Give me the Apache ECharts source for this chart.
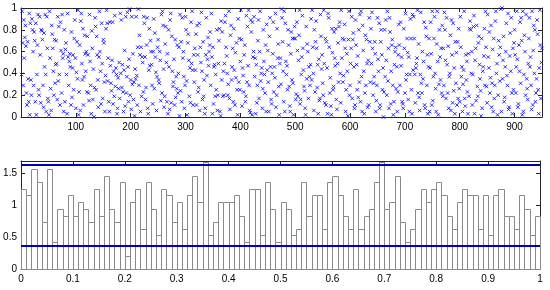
<!DOCTYPE html>
<html>
<head>
<meta charset="utf-8">
<script src="https://cdn.jsdelivr.net/npm/echarts@6/dist/echarts.min.js"></script>
<style>
html, body { margin: 0; padding: 0; background: #fff; }
#main { width: 550px; height: 290px; }
</style>
</head>
<body>
<div id="main"></div>
<script>
// upper panel: sample values in index order, read strip by strip (6 slices of the x range)
var sampleA = [0.39,0.97,0.68,0.29,0.89,0.54,0.73,0.84,0.65,0.22,0.11,0.69,0.35,0.14,0.95,0.02,0.86,0.34,0.20,0.90,0.80,0.60,
  0.29,0.78,0.70,0.14,0.86,0.02,0.39,0.66,0.94,0.25,0.20,0.92,0.57,0.13,0.80,0.79,0.71,0.29,0.09,0.77,0.46,0.94,0.39,0.05,0.92,0.63,0.17,0.14,
  0.02,0.97,0.54,0.26,0.06,0.84,0.76,0.63,0.42,0.20,0.71,0.31,0.48,0.70,0.49,0.16,0.92,0.33,0.83,0.39,0.11,0.87,0.61,0.22,0.94,0.54,0.58,0.05,
  0.80,0.14,0.62,0.68,0.39,0.03,0.95,0.55,0.29,0.51,0.58,0.46,0.11,0.78,0.18,0.45,0.57,0.25,0.72,0.89,0.54,0.08,0.41,0.69,0.35,0.98,0.02,0.23,
  0.66,0.06,0.88,0.95,0.49,0.34,0.81,0.11,0.37,0.75,0.58,0.42,0.60,0.23,0.74,0.57,0.22,0.15,0.94,0.51,0.29,0.03,0.79,0.63,0.16,0.44,0.00,0.27,
  0.91,0.83,0.25,0.74,0.57,0.34,0.09,0.55,0.97,0.60,0.42,0.12,0.86,0.49,0.17,0.71,0.68,0.32,0.05,0.38,0.81];
var sampleB = [0.98,0.86,0.33,0.54,0.14,0.05,0.87,0.47,0.31,0.24,0.52,0.87,0.12,0.42,0.19,0.93,0.28,0.45,0.39,0.03,0.08,0.36,0.26,0.50,0.17,0.95,0.40,
  0.89,0.27,0.48,0.23,0.05,0.43,0.61,0.10,0.92,0.22,0.37,0.96,0.46,0.14,0.53,0.99,0.20,0.34,0.07,0.92,0.30,0.58,0.16,0.32,0.01,0.44,0.35,
  0.92,0.38,0.11,0.64,0.99,0.29,0.75,0.57,0.05,0.64,0.19,0.55,0.50,0.23,0.92,0.86,0.55,0.16,0.27,0.66,0.91,0.08,0.03,0.43,0.81,0.47,0.70,
  0.60,0.48,0.29,0.12,0.60,0.90,0.26,0.77,0.55,0.41,0.06,0.37,0.64,0.71,0.34,0.31,0.60,0.52,0.15,0.94,0.22,0.97,0.84,0.44,0.09,0.19,0.67,
  0.83,0.50,0.14,0.58,0.03,0.80,0.46,0.07,0.89,0.95,0.13,0.74,0.42,0.28,0.32,0.53,0.11,0.71,0.18,0.37,0.26,0.66,0.22,0.40,0.64,0.01,
  0.94,0.24,0.69,0.14,0.91,0.54,0.60,0.37,0.08,0.29,0.92,0.80,0.33,0.02,0.68,0.76,0.52,0.19,0.45,0.13,0.87,0.49,0.97,0.43,0.11,0.57];
var sampleC = [0.32,0.63,0.43,0.76,0.11,0.84,0.57,0.23,0.27,0.86,0.06,0.64,0.50,0.96,0.42,0.16,0.69,0.19,0.34,0.03,0.08,0.57,0.91,0.38,0.53,0.73,0.47,
  0.60,0.66,0.78,0.29,0.95,0.55,0.03,0.64,0.12,0.46,0.48,0.19,0.39,0.25,0.80,0.06,0.20,0.49,0.70,0.81,0.05,0.01,0.88,0.34,0.78,0.19,0.42,
  0.20,0.49,0.87,0.93,0.64,0.56,0.40,0.20,0.30,0.97,0.17,0.07,0.75,0.84,0.34,0.46,0.63,0.14,0.81,0.43,0.11,0.59,0.36,0.68,0.25,0.02,0.90,
  0.32,0.72,0.25,0.51,0.98,0.71,0.10,0.45,0.38,0.23,0.57,0.66,0.14,0.19,0.93,0.32,0.83,0.47,0.98,0.29,0.06,0.04,0.89,0.78,0.02,0.87,0.55,
  0.60,0.92,0.37,0.54,0.03,0.48,0.13,0.29,0.70,0.89,0.17,0.60,0.97,0.33,0.40,0.45,0.08,0.26,0.80,0.51,0.39,0.22,0.66,0.05,0.85,0.43,
  0.61,0.32,0.05,0.74,0.91,0.46,0.16,0.12,0.40,0.58,0.87,0.23,0.46,0.36,0.95,0.09,0.20,0.81,0.54,0.67,0.28,0.02,0.49,0.54,0.30,0.99];
var sampleD = [0.91,0.69,0.42,0.14,0.97,0.05,0.86,0.51,0.39,0.47,0.25,0.80,0.66,0.28,0.10,0.05,0.58,0.78,0.34,0.72,0.31,0.02,0.72,0.83,0.72,0.16,0.21,
  0.87,0.61,0.19,0.52,0.75,0.98,0.12,0.16,0.39,0.55,0.93,0.63,0.43,0.28,0.24,0.08,0.02,0.83,0.35,0.67,0.60,0.17,0.46,0.37,0.29,0.48,0.90,
  0.34,0.98,0.64,0.40,0.06,0.80,0.23,0.69,0.88,0.63,0.27,0.48,0.03,0.53,0.15,0.17,0.94,0.74,0.44,0.57,0.31,0.20,0.98,0.49,0.13,0.72,0.11,
  0.69,0.45,0.03,0.95,0.91,0.64,0.22,0.36,0.10,0.02,0.81,0.59,0.25,0.28,0.78,0.54,0.47,0.81,0.16,0.07,0.49,0.68,0.32,0.83,0.87,0.40,
  0.13,0.98,0.54,0.72,0.32,0.38,0.71,0.85,0.63,0.05,0.25,0.58,0.42,0.01,0.71,0.97,0.20,0.29,0.49,0.63,0.92,0.17,0.71,0.77,0.46,0.08,0.11,
  0.89,0.66,0.48,0.25,0.56,0.18,0.80,0.32,0.94,0.14,0.97,0.37,0.05,0.84,0.61,0.42,0.03,0.22,0.75,0.29,0.71,0.49,0.09,0.52,0.11,0.91];
var sampleE = [0.69,0.32,0.81,0.49,0.96,0.63,0.20,0.31,0.37,0.69,0.58,0.05,0.15,0.29,0.91,0.53,0.42,0.86,0.08,0.11,0.69,0.80,0.57,0.25,0.45,0.00,0.23,
  0.80,0.37,0.89,0.52,0.20,0.97,0.33,0.63,0.08,0.91,0.78,0.12,0.42,0.66,0.71,0.29,0.02,0.14,0.48,0.60,0.64,0.26,0.46,0.05,0.23,0.57,0.85,
  0.66,0.29,0.87,0.47,0.55,0.14,0.12,0.08,0.81,0.63,0.22,0.95,0.34,0.39,0.72,0.59,0.16,0.55,0.05,0.39,0.90,0.72,0.25,0.03,0.94,0.43,
  0.92,0.72,0.39,0.13,0.45,0.49,0.54,0.98,0.22,0.67,0.18,0.06,0.39,0.96,0.31,0.22,0.60,0.35,0.51,0.87,0.11,0.08,0.82,0.74,0.29,0.57,0.03,
  0.46,0.72,0.05,0.45,0.87,0.58,0.11,0.97,0.15,0.37,0.72,0.92,0.40,0.26,0.05,0.67,0.97,0.51,0.02,0.30,0.80,0.55,0.34,0.63,0.22,0.84,0.19,
  0.63,0.29,0.96,0.80,0.52,0.17,0.91,0.48,0.22,0.65,0.08,0.37,0.40,0.75,0.06,0.89,0.57,0.13,0.86,0.24,0.45,0.03,0.69,0.31,0.59,0.11];
var sampleF = [0.69,0.17,0.81,0.26,0.14,0.92,0.64,0.37,0.46,0.05,0.30,0.43,0.97,0.17,0.10,0.57,0.34,0.51,0.23,0.03,0.58,0.19,0.81,0.88,0.80,0.40,
  0.60,0.11,0.39,0.83,0.93,0.03,0.52,0.63,0.15,0.84,0.28,0.19,0.68,0.74,0.48,0.35,0.24,0.01,0.72,0.08,0.42,0.46,0.56,0.81,0.29,0.97,
  0.64,0.28,0.13,0.94,0.55,0.45,0.78,0.22,0.36,0.84,0.09,0.31,0.62,0.05,0.72,0.17,0.29,0.88,0.97,0.40,0.49,0.02,0.20,0.70,0.57,0.33,
  0.64,0.99,0.05,1.00,0.35,0.52,0.74,0.14,0.18,0.46,0.60,0.86,0.38,0.29,0.95,0.07,0.09,0.56,0.77,0.42,0.91,0.22,0.03,0.63,0.25,0.68,
  0.80,0.57,0.22,0.46,0.97,0.53,0.09,0.12,0.66,0.42,0.87,0.31,0.91,0.70,0.02,0.97,0.05,0.39,0.75,0.60,0.20,0.94,0.35,0.26,0.16,0.49,
  0.72,0.91,0.46,0.55,0.29,0.07,0.97,0.11,0.61,0.84,0.40,0.80,0.14,0.22,0.35,0.89,0.76,0.25,0.03,0.45,0.98,0.66,0.17,0.50,0.63];

// lower panel: normalised histogram, 100 bins on [0,1]
var histValues = [1.26,1.16,1.58,1.37,0.74,1.58,0.42,0.95,0.84,1.16,
  0.84,1.05,0.95,0.74,1.26,0.84,1.47,0.95,0.74,1.37,
  0.21,1.05,1.26,0.63,1.37,0.95,0.53,1.26,1.16,0.74,
  1.05,0.63,1.16,1.47,1.05,1.68,0.53,0.74,1.05,1.05,
  1.05,1.16,0.84,0.42,1.26,1.26,0.53,1.37,0.95,0.42,
  1.05,0.95,0.53,0.63,1.37,0.84,1.16,1.16,0.63,1.37,
  1.47,1.16,0.84,0.63,1.26,0.63,0.84,0.95,1.37,1.68,
  0.95,1.05,1.47,0.74,0.42,0.63,0.95,1.26,1.05,1.26,
  1.37,1.16,0.84,0.63,1.05,1.26,1.16,1.16,0.63,1.16,
  0.53,1.16,1.26,0.84,0.84,0.63,1.16,0.95,0.53,0.84];
var binWidth = 0.01;
var upperBound = 1.636;
var lowerBound = 0.364;

var samples = sampleA.concat(sampleB, sampleC, sampleD, sampleE, sampleF);
var scatterData = samples.map(function (v, i) { return [i + 1, v]; });
var histData = histValues.map(function (v, i) { return [i * binWidth, (i + 1) * binWidth, v]; });

var lineCol = '#262626';
var labelStyle = { fontFamily: 'Liberation Sans', fontSize: 10, color: '#000' };

function axis(gridIndex, pos, min, max, interval, showLabel, extra) {
    var a = {
        type: 'value', gridIndex: gridIndex, position: pos,
        min: min, max: max, interval: interval,
        splitLine: { show: false },
        axisLine: { show: true, onZero: false, lineStyle: { color: lineCol, width: 1 } },
        axisTick: { show: true, inside: true, length: 4, lineStyle: { color: lineCol } },
        axisLabel: Object.assign({ show: showLabel, margin: 5 }, labelStyle)
    };
    return Object.assign(a, extra || {});
}

function renderBin(params, api) {
    var p0 = api.coord([api.value(0), api.value(2)]);
    var p1 = api.coord([api.value(1), 0]);
    var x0 = Math.round(p0[0]) + 0.5, x1 = Math.round(p1[0]) + 0.5;
    var y0 = Math.round(p0[1]) + 0.5, y1 = Math.round(p1[1]) + 0.5;
    return {
        type: 'rect',
        shape: { x: x0, y: y0, width: x1 - x0, height: y1 - y0 },
        style: { fill: '#fff', stroke: '#8a8a8a', lineWidth: 1 }
    };
}

var myChart = echarts.init(document.getElementById('main'));
myChart.setOption({
    animation: false,
    grid: [
        { left: 21, top: 8, right: 8, height: 109 },
        { left: 21, top: 161, right: 10, height: 108 }
    ],
    xAxis: [
        axis(0, 'bottom', 0, 950, 100, true, { axisLabel: Object.assign({ margin: 5, formatter: function (v) { return (v === 0 || v % 100) ? '' : v; } }, labelStyle) }),
        axis(0, 'top', 0, 950, 100, false),
        axis(1, 'bottom', 0, 1, 0.1, true),
        axis(1, 'top', 0, 1, 0.1, false)
    ],
    yAxis: [
        axis(0, 'left', 0, 1, 0.2, true, { axisLabel: Object.assign({ margin: 4 }, labelStyle) }),
        axis(0, 'right', 0, 1, 0.2, false),
        axis(1, 'left', 0, 1.7, 0.5, true, { axisLabel: Object.assign({ margin: 4, showMaxLabel: false }, labelStyle) }),
        axis(1, 'right', 0, 1.7, 0.5, false)
    ],
    series: [
        {
            type: 'scatter', xAxisIndex: 0, yAxisIndex: 0,
            data: scatterData,
            symbol: 'path://M0,0L10,10M10,0L0,10',
            symbolSize: 3.5,
            itemStyle: { color: 'none', borderColor: '#0000ff', borderWidth: 1 },
            silent: true
        },
        {
            type: 'custom', xAxisIndex: 2, yAxisIndex: 2,
            data: histData,
            renderItem: renderBin,
            silent: true
        },
        {
            type: 'line', xAxisIndex: 2, yAxisIndex: 2,
            data: [[0, upperBound], [1, upperBound]],
            showSymbol: false, z: 5,
            lineStyle: { color: '#0000c0', width: 2 }
        },
        {
            type: 'line', xAxisIndex: 2, yAxisIndex: 2,
            data: [[0, lowerBound], [1, lowerBound]],
            showSymbol: false, z: 5,
            lineStyle: { color: '#0000c0', width: 2 }
        }
    ]
});
</script>
</body>
</html>
